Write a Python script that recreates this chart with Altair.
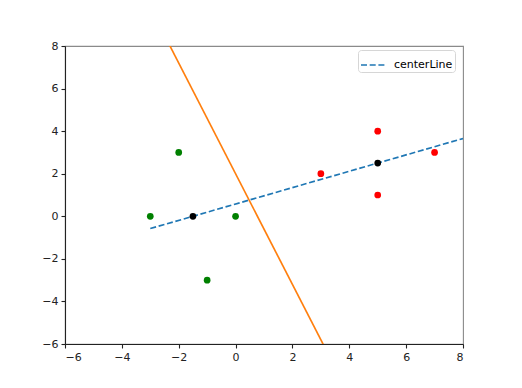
import altair as alt
import pandas as pd

# Data
green_x = [-3, -2, -1, 0]
green_y = [0, 3, -3, 0]
red_x = [3, 5, 5, 7]
red_y = [2, 4, 1, 3]
center_x = [-1.5, 5]
center_y = [0, 2.5]
centerline_x = [-3, 8]
centerline_y = [-0.577, 3.654]
split_x = [-3, 8]
split_y = [9.8, -18.8]
ticks = [-6, -4, -2, 0, 2, 4, 6, 8]

green_df = pd.DataFrame({"x": green_x, "y": green_y})
red_df = pd.DataFrame({"x": red_x, "y": red_y})
center_df = pd.DataFrame({"x": center_x, "y": center_y})
cl_df = pd.DataFrame({"x": centerline_x, "y": centerline_y, "s": ["centerLine"] * 2})
split_df = pd.DataFrame({"x": split_x, "y": split_y})

xs = alt.Scale(domain=[-6, 8], nice=False, zero=False)
ys = alt.Scale(domain=[-6, 8], nice=False, zero=False)
xax = alt.Axis(values=ticks, title=None, grid=False)
yax = alt.Axis(values=ticks, title=None, grid=False)

X = alt.X("x:Q", scale=xs, axis=xax)
Y = alt.Y("y:Q", scale=ys, axis=yax)

centerline = alt.Chart(cl_df).mark_line(
    strokeDash=[6, 2.7], strokeWidth=1.67, clip=True
).encode(
    x=X, y=Y,
    color=alt.Color(
        "s:N",
        scale=alt.Scale(domain=["centerLine"], range=["#1f77b4"]),
        legend=alt.Legend(
            title=None, orient="none", legendX=293, legendY=4,
            symbolType="stroke", symbolSize=576, symbolStrokeWidth=1.67,
            symbolDash=[6, 2.7], labelFontSize=11, labelFont="DejaVu Sans",
            labelColor="#000000", labelOffset=8, padding=2,
            strokeColor="#d6d6d6", cornerRadius=3, fillColor="white",
        ),
    ),
)

split = alt.Chart(split_df).mark_line(
    color="#ff7f0e", strokeWidth=1.67, clip=True
).encode(x=X, y=Y)

green = alt.Chart(green_df).mark_circle(color="green", size=45, opacity=1).encode(x=X, y=Y)
red = alt.Chart(red_df).mark_circle(color="red", size=45, opacity=1).encode(x=X, y=Y)
black = alt.Chart(center_df).mark_circle(color="black", size=45, opacity=1).encode(x=X, y=Y)

chart = alt.layer(centerline, split, green, red, black).properties(
    width=398, height=298,
    autosize=alt.AutoSizeParams(type="none"),
    padding={"left": 57, "top": 38, "right": 40, "bottom": 30},
    background="white",
).configure_view(
    stroke="#8a8a8a", strokeWidth=1.1
).configure_axis(
    domainColor="#222222", domainWidth=1.1, tickColor="#222222", tickSize=4,
    tickWidth=1.1, labelFont="DejaVu Sans", labelFontSize=11, labelColor="#222222",
    labelPadding=3,
)

chart.save("out.html", embed_options={"renderer": "svg", "actions": False})
